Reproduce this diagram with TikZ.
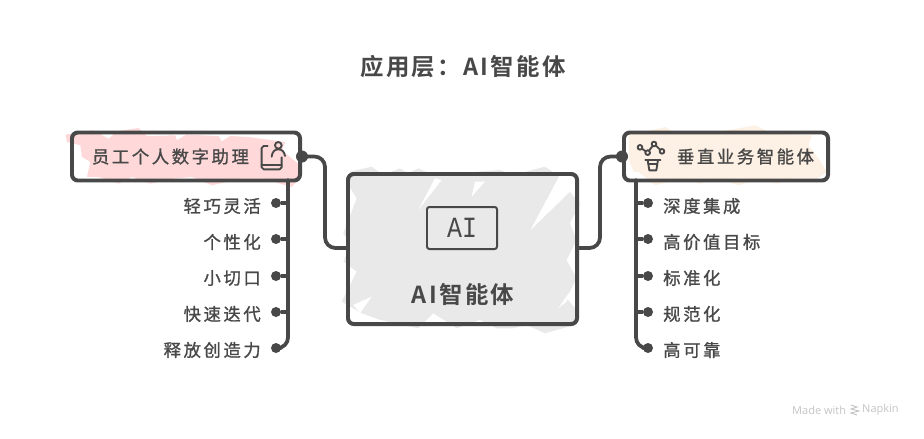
\documentclass[tikz,border=0pt]{standalone}
\usepackage{fontspec}
\usepackage{xcolor}
\usepackage{tikz}
\usetikzlibrary{calc,positioning}
\newfontfamily\cjk[LetterSpace=15,FakeBold=1.2]{Noto Sans CJK SC}
\newfontfamily\cjkhead[LetterSpace=10,BoldFont={Noto Sans CJK SC Bold}]{Noto Sans CJK SC}
\newfontfamily\aimono[FakeStretch=0.85]{Liberation Mono}
\setsansfont{Open Sans}
\definecolor{inkgray}{RGB}{72, 72, 72}
\definecolor{rosefill}{RGB}{255, 217, 217}
\definecolor{peachfill}{RGB}{253, 240, 228}
\definecolor{ashfill}{RGB}{233, 233, 233}
\definecolor{markgray}{RGB}{196, 196, 196}
\tikzset{
  branchbox/.style={draw=inkgray, line width=3.4pt, rounded corners=5pt, minimum height=1.44cm, inner ysep=0pt, text=inkgray, font=\cjk\fontsize{14.8}{16}\selectfont},
  link/.style={draw=inkgray, line width=3.2pt, rounded corners=9pt, line cap=round},
  twig/.style={draw=inkgray, line width=3.2pt},
  leafdot/.style={circle, fill=inkgray, inner sep=0pt, minimum size=0.3cm},
  leaftext/.style={text=inkgray, inner sep=0pt, font=\cjk\fontsize{14.8}{16}\selectfont},
  headtext/.style={text=inkgray, inner sep=0pt, font=\cjkhead\bfseries\fontsize{20}{22}\selectfont},
  iconline/.style={draw=inkgray, line width=1.6pt, line cap=round, line join=round}
}
\begin{document}
\begin{tikzpicture}[x=0.03cm, y=-0.03cm]
    \useasboundingbox (0,0) rectangle (924,438);

    % Titulo
    \node[headtext] (title) at (463,67) {应用层：AI智能体};

    % Relleno de las cajas
    \begin{scope}[shift={(62,122)}, x=0.01cm, y=-0.01cm]
      \fill[rosefill] (10,38) -- (95,25) -- (140,50) -- (165,28) -- (230,18) -- (255,42) -- (340,40) -- (345,55) -- (372,38) -- (470,42) -- (480,58) -- (505,42) -- (560,45) -- (670,60) -- (660,85) -- (715,130) -- (715,165) -- (690,195) -- (600,170) -- (540,170) -- (450,190) -- (390,165) -- (335,170) -- (265,185) -- (210,165) -- (170,185) -- (110,165) -- (75,165) -- (85,120) -- (60,105) -- (55,70) -- (15,60) -- cycle;
    \end{scope}
    \begin{scope}[shift={(612,122)}, x=0.01cm, y=-0.01cm]
      \fill[peachfill] (50,40) -- (160,15) -- (190,35) -- (290,35) -- (430,10) -- (480,35) -- (600,40) -- (590,70) -- (620,110) -- (645,150) -- (615,170) -- (540,170) -- (495,185) -- (440,170) -- (380,190) -- (320,170) -- (265,185) -- (205,170) -- (130,190) -- (80,150) -- (65,150) -- (50,110) -- cycle;
    \end{scope}
    \begin{scope}[shift={(340,165)}, x=0.01cm, y=-0.01cm]
      \fill[ashfill] (30,20) -- (95,5) -- (130,30) -- (180,10) -- (205,25) -- (235,10) -- (280,30) -- (480,15) -- (520,30) -- (615,5) -- (660,35) -- (690,80) -- (720,115) -- (690,175) -- (710,225) -- (680,285) -- (710,340) -- (680,400) -- (715,440) -- (705,480) -- (615,505) -- (560,480) -- (520,490) -- (470,490) -- (420,465) -- (350,490) -- (280,445) -- (235,490) -- (120,465) -- (65,445) -- (5,410) -- (50,320) -- (10,290) -- (30,240) -- (10,205) -- (50,100) -- (25,60) -- cycle;
      \fill[white] (572,195) -- (660,30) -- (690,80) -- cycle;
      \fill[white] (235,135) -- (305,45) -- (285,40) -- cycle;
      \fill[white] (395,95) -- (435,50) -- (405,50) -- cycle;
      \fill[white] (40,420) -- (95,395) -- (60,445) -- cycle;
      \fill[white] (655,430) -- (690,380) -- (680,410) -- cycle;
    \end{scope}

    % Cajas
    \node[branchbox, text width=5.64cm, inner xsep=0.6cm, align=left] (assistant) at (186,156.5) {\raisebox{-0.8pt}{员工个人数字助理}};
    \node[branchbox, text width=5.28cm, inner xsep=0.42cm, align=right] (vertical) at (726,156.5) {\raisebox{-0.8pt}{垂直业务智能体}};
    \node[draw=inkgray, line width=3.4pt, rounded corners=5pt, minimum width=6.87cm, minimum height=4.5cm, inner sep=0pt] (agent) at (462.5,249) {};
    \node[draw=inkgray, line width=1.7pt, rounded corners=2pt, minimum width=2.1cm, minimum height=1.26cm, inner sep=0pt, text=inkgray, font=\aimono\fontsize{25}{28}\selectfont] (aitag) at (462,228) {AI};
    \node[headtext] (agentname) at (463,295) {AI智能体};

    % Conexiones con la caja central
    \coordinate (leftbend) at (325,248);
    \coordinate (rightbend) at (600,248);
    \draw[link] (assistant.east) -| (leftbend) -- (agent.west |- leftbend);
    \draw[link] (agent.east |- rightbend) -- (rightbend) |- (vertical.west);
    \node[leafdot, minimum size=0.36cm] (assistantdot) at (assistant.east) {};
    \node[leafdot, minimum size=0.36cm] (verticaldot) at (vertical.west) {};

    % Rama izquierda
    \coordinate (lefttrunk) at (288,180);
    \node[leafdot] (leftdot1) at (276,203) {};
    \node[leafdot] (leftdot2) at (276,239) {};
    \node[leafdot] (leftdot3) at (276,276) {};
    \node[leafdot] (leftdot4) at (276,312) {};
    \node[leafdot] (leftdot5) at (276,348) {};
    \draw[link] (lefttrunk) |- (leftdot5);
    \draw[twig] (lefttrunk |- leftdot1) -- (leftdot1);
    \draw[twig] (lefttrunk |- leftdot2) -- (leftdot2);
    \draw[twig] (lefttrunk |- leftdot3) -- (leftdot3);
    \draw[twig] (lefttrunk |- leftdot4) -- (leftdot4);
    \node[leaftext, anchor=east] (lefttext1) at (261,206) {轻巧灵活};
    \node[leaftext, anchor=east] (lefttext2) at (261,242) {个性化};
    \node[leaftext, anchor=east] (lefttext3) at (261,278) {小切口};
    \node[leaftext, anchor=east] (lefttext4) at (261,314) {快速迭代};
    \node[leaftext, anchor=east] (lefttext5) at (261,350) {释放创造力};

    % Rama derecha
    \coordinate (righttrunk) at (636,180);
    \node[leafdot] (rightdot1) at (648,203) {};
    \node[leafdot] (rightdot2) at (648,239) {};
    \node[leafdot] (rightdot3) at (648,276) {};
    \node[leafdot] (rightdot4) at (648,312) {};
    \node[leafdot] (rightdot5) at (648,348) {};
    \draw[link] (righttrunk) |- (rightdot5);
    \draw[twig] (righttrunk |- rightdot1) -- (rightdot1);
    \draw[twig] (righttrunk |- rightdot2) -- (rightdot2);
    \draw[twig] (righttrunk |- rightdot3) -- (rightdot3);
    \draw[twig] (righttrunk |- rightdot4) -- (rightdot4);
    \node[leaftext, anchor=west] (righttext1) at (663,206) {深度集成};
    \node[leaftext, anchor=west] (righttext2) at (663,242) {高价值目标};
    \node[leaftext, anchor=west] (righttext3) at (663,278) {标准化};
    \node[leaftext, anchor=west] (righttext4) at (663,314) {规范化};
    \node[leaftext, anchor=west] (righttext5) at (663,350) {高可靠};

    % Icono persona y telefono
    \begin{scope}[shift={(255,136)}, x=0.01cm, y=-0.01cm]
      \draw[iconline] (38,30) -- (26,30) -- (20,36) -- (20,94) -- (26,100) -- (74,100) -- (80,94) -- (80,64);
      \draw[iconline] (20,88) -- (80,88);
      \draw[iconline] (70,28) circle (0.1cm);
      \draw[iconline] (50,62) .. controls (52,46) and (60,40) .. (70,40) .. controls (80,40) and (88,46) .. (90,60);
    \end{scope}

    % Icono red y embudo
    \begin{scope}[shift={(632,136)}, x=0.01cm, y=-0.01cm]
      \draw[iconline] (30,38) -- (41,46);
      \draw[iconline] (51,44) -- (62,30);
      \draw[iconline] (72,29) -- (84,41);
      \draw[iconline] (24,34) circle (0.07cm);
      \draw[iconline] (47,50) circle (0.07cm);
      \draw[iconline] (66,24) circle (0.07cm);
      \draw[iconline] (90,46) circle (0.07cm);
      \draw[iconline] (40,72) -- (85,72);
      \draw[iconline] (47,72) -- (52,103) -- (73,103) -- (78,72);
      \draw[iconline] (50,85) -- (75,85);
    \end{scope}

    % Marca de agua
    \node[text=markgray, inner sep=0pt, anchor=west, font=\sffamily\fontsize{9.4}{10}\selectfont] (madewith) at (792,410) {Made with};
    \node[text=markgray, inner sep=0pt, anchor=west, font=\sffamily\fontsize{9.4}{10}\selectfont] (napkin) at (862,410) {Napkin};
    \draw[markgray, line width=0.8pt] (851,405) -- (857,407) -- (851,409) -- (859,411) -- (851,413) -- (857,415);
\end{tikzpicture}
\end{document}
